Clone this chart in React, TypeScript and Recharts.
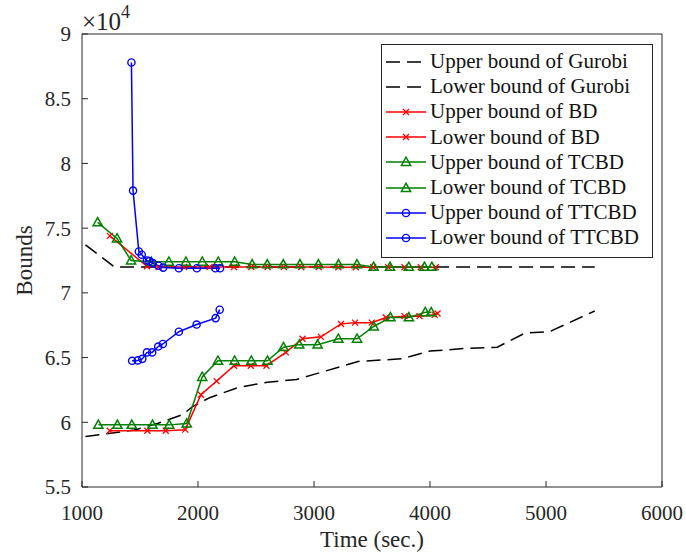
import { LineChart, Line, XAxis, YAxis, Legend } from "recharts";

const FONT = "'Liberation Serif', 'Times New Roman', serif";
const INK = "#262626";

const xTicks = [1000, 2000, 3000, 4000, 5000, 6000];
const yTicks = [55000, 60000, 65000, 70000, 75000, 80000, 85000, 90000];

// Gurobi
const gurobiUpperT = [1030, 1280, 5420];
const gurobiUpperV = [73700, 72000, 72000];
const gurobiLowerT = [1030, 1450, 1650, 1870, 1950, 2100, 2350, 2600, 2850, 3000, 3380, 3750, 4000, 4300, 4580, 4820, 5030, 5420];
const gurobiLowerV = [58900, 59400, 59900, 60600, 61200, 61900, 62700, 63100, 63300, 63700, 64700, 64900, 65500, 65700, 65800, 66900, 67000, 68600];

// BD
const bdUpperT = [1240, 1560, 1660, 1880, 2100, 2310, 2460, 2600, 2740, 2890, 3040, 3210, 3360, 3510, 3640, 3780, 3920, 4050];
const bdUpperV = [74400, 72050, 72000, 72000, 72000, 72000, 72000, 72000, 72000, 72000, 72000, 71980, 71980, 71980, 71980, 71980, 71980, 71980];
const bdLowerT = [1239, 1564, 1722, 1890, 2025, 2160, 2310, 2455, 2590, 2757, 2901, 3060, 3233, 3354, 3498, 3620, 3780, 3910, 4040, 4065];
const bdLowerV = [59350, 59350, 59350, 59430, 62130, 63180, 64370, 64370, 64370, 65400, 66460, 66600, 67600, 67700, 67700, 68100, 68200, 68200, 68300, 68400];

// TCBD
const tcbdUpperT = [1135, 1302, 1423, 1597, 1749, 1896, 2037, 2175, 2316, 2467, 2597, 2735, 2879, 3038, 3211, 3370, 3514, 3655, 3817, 3952, 4016];
const tcbdUpperV = [75450, 74200, 72500, 72400, 72400, 72400, 72400, 72400, 72400, 72200, 72200, 72200, 72200, 72200, 72200, 72200, 72000, 72000, 72000, 72000, 72000];
const tcbdLowerT = [1141, 1305, 1429, 1608, 1752, 1903, 2036, 2172, 2316, 2460, 2599, 2737, 2873, 3031, 3210, 3371, 3515, 3659, 3818, 3959, 4010];
const tcbdLowerV = [59800, 59800, 59800, 59800, 59800, 59900, 63500, 64750, 64750, 64750, 64750, 65800, 66000, 66000, 66450, 66450, 67400, 68100, 68100, 68500, 68500];

// TTCBD
const ttcbdUpperT = [1426, 1440, 1490, 1515, 1560, 1580, 1610, 1660, 1700, 1835, 1990, 2150, 2190];
const ttcbdUpperV = [87800, 77900, 73200, 72950, 72500, 72450, 72300, 72100, 71950, 71900, 71900, 71900, 71900];
const ttcbdLowerT = [1432, 1480, 1520, 1560, 1605, 1657, 1697, 1835, 1988, 2152, 2187];
const ttcbdLowerV = [64750, 64780, 64900, 65400, 65400, 65850, 66050, 67000, 67550, 68050, 68700];

const zip = (t: number[], v: number[]) => t.map((x, i) => ({ t: x, v: v[i] }));

type Marker = "none" | "x" | "tri" | "circle";

function MarkShape({ cx, cy, color, marker }: { cx: number; cy: number; color: string; marker: Marker }) {
  if (marker === "x") {
    return (
      <path
        d={`M${cx - 3},${cy - 3}L${cx + 3},${cy + 3}M${cx - 3},${cy + 3}L${cx + 3},${cy - 3}`}
        stroke={color}
        strokeWidth={1.3}
        fill="none"
      />
    );
  }
  if (marker === "tri") {
    return (
      <polygon
        points={`${cx},${cy - 4.8} ${cx + 4.6},${cy + 3.4} ${cx - 4.6},${cy + 3.4}`}
        stroke={color}
        strokeWidth={1.5}
        fill="none"
      />
    );
  }
  if (marker === "circle") {
    return <circle cx={cx} cy={cy} r={3.6} stroke={color} strokeWidth={1.4} fill="none" />;
  }
  return <g />;
}

const series = [
  { name: "Upper bound of Gurobi", data: zip(gurobiUpperT, gurobiUpperV), color: "#000000", dashed: true, marker: "none" as Marker },
  { name: "Lower bound of Gurobi", data: zip(gurobiLowerT, gurobiLowerV), color: "#000000", dashed: true, marker: "none" as Marker },
  { name: "Upper bound of BD", data: zip(bdUpperT, bdUpperV), color: "#ff0000", dashed: false, marker: "x" as Marker },
  { name: "Lower bound of BD", data: zip(bdLowerT, bdLowerV), color: "#ff0000", dashed: false, marker: "x" as Marker },
  { name: "Upper bound of TCBD", data: zip(tcbdUpperT, tcbdUpperV), color: "#008000", dashed: false, marker: "tri" as Marker },
  { name: "Lower bound of TCBD", data: zip(tcbdLowerT, tcbdLowerV), color: "#008000", dashed: false, marker: "tri" as Marker },
  { name: "Upper bound of TTCBD", data: zip(ttcbdUpperT, ttcbdUpperV), color: "#0000ff", dashed: false, marker: "circle" as Marker },
  { name: "Lower bound of TTCBD", data: zip(ttcbdLowerT, ttcbdLowerV), color: "#0000ff", dashed: false, marker: "circle" as Marker },
];

function LegendBox() {
  return (
    <div
      style={{
        border: `1px solid ${INK}`,
        background: "#fff",
        padding: "4px 0 6px 0",
        fontFamily: FONT,
        fontSize: 21,
        color: "#111",
        boxSizing: "border-box",
        width: 272,
      }}
    >
      {series.map((s) => (
        <div key={s.name} style={{ display: "flex", alignItems: "center", height: 25.2, whiteSpace: "nowrap" }}>
          <svg width={48} height={20} style={{ flex: "none" }}>
            <line
              x1={4}
              x2={44}
              y1={10}
              y2={10}
              stroke={s.color}
              strokeWidth={1.5}
              strokeDasharray={s.dashed ? "14 7" : undefined}
            />
            <MarkShape cx={24} cy={10} color={s.color} marker={s.marker} />
          </svg>
          <span style={{ lineHeight: "25px" }}>{s.name}</span>
        </div>
      ))}
    </div>
  );
}

const ExpLabel = ({ viewBox }: any) => (
  <text x={viewBox.x} y={viewBox.y + viewBox.height - 4} fontFamily={FONT} fontSize={25} fill={INK}>
    <tspan>×10</tspan>
    <tspan fontSize={18} dy={-12}>4</tspan>
  </text>
);

const YTitle = ({ viewBox }: any) => {
  const x = viewBox.x + 32;
  const y = viewBox.y + viewBox.height / 2;
  return (
    <text x={x} y={y} transform={`rotate(-90 ${x} ${y})`} textAnchor="middle" fontFamily={FONT} fontSize={23} fill={INK}>
      Bounds
    </text>
  );
};

const tickStyle = { fontFamily: FONT, fontSize: 21, fill: INK };

export default function App() {
  return (
    <div style={{ position: "absolute", left: 0, top: 0, background: "#fff" }}>
      <LineChart width={686} height={556} margin={{ top: 4, right: 0, left: 0, bottom: 0 }}>
        <XAxis
          dataKey="t"
          type="number"
          domain={[1000, 6000]}
          ticks={xTicks}
          allowDataOverflow
          height={69}
          tickSize={-6}
          tickMargin={24}
          tick={tickStyle}
          stroke={INK}
          label={{ value: "Time (sec.)", position: "insideBottom", offset: 9, fontFamily: FONT, fontSize: 23, fill: INK }}
        />
        <XAxis
          xAxisId="top"
          orientation="top"
          dataKey="t"
          type="number"
          domain={[1000, 6000]}
          ticks={xTicks}
          height={30}
          tickSize={-6}
          tickFormatter={() => ""}
          stroke={INK}
          label={<ExpLabel />}
        />
        <YAxis
          dataKey="v"
          type="number"
          domain={[55000, 90000]}
          ticks={yTicks}
          allowDataOverflow
          width={82}
          tickSize={-6}
          tickMargin={17}
          tick={tickStyle}
          tickFormatter={(v: number) => String(v / 10000)}
          stroke={INK}
          label={<YTitle />}
        />
        <YAxis
          yAxisId="right"
          orientation="right"
          dataKey="v"
          type="number"
          domain={[55000, 90000]}
          ticks={yTicks}
          width={24}
          tickSize={-6}
          tickFormatter={() => ""}
          stroke={INK}
        />
        <Legend
          layout="vertical"
          align="center"
          verticalAlign="middle"
          content={() => <LegendBox />}
          wrapperStyle={{ left: 381, top: 44, width: 272 }}
        />
        {series.map((s) => (
          <Line
            key={s.name}
            name={s.name}
            data={s.data}
            dataKey="v"
            type="linear"
            stroke={s.color}
            strokeWidth={1.5}
            strokeDasharray={s.dashed ? "14 7" : undefined}
            dot={
              s.marker === "none"
                ? false
                : (p: any) => <MarkShape key={p.index} cx={p.cx} cy={p.cy} color={s.color} marker={s.marker} />
            }
            activeDot={false}
            isAnimationActive={false}
          />
        ))}
      </LineChart>
    </div>
  );
}
